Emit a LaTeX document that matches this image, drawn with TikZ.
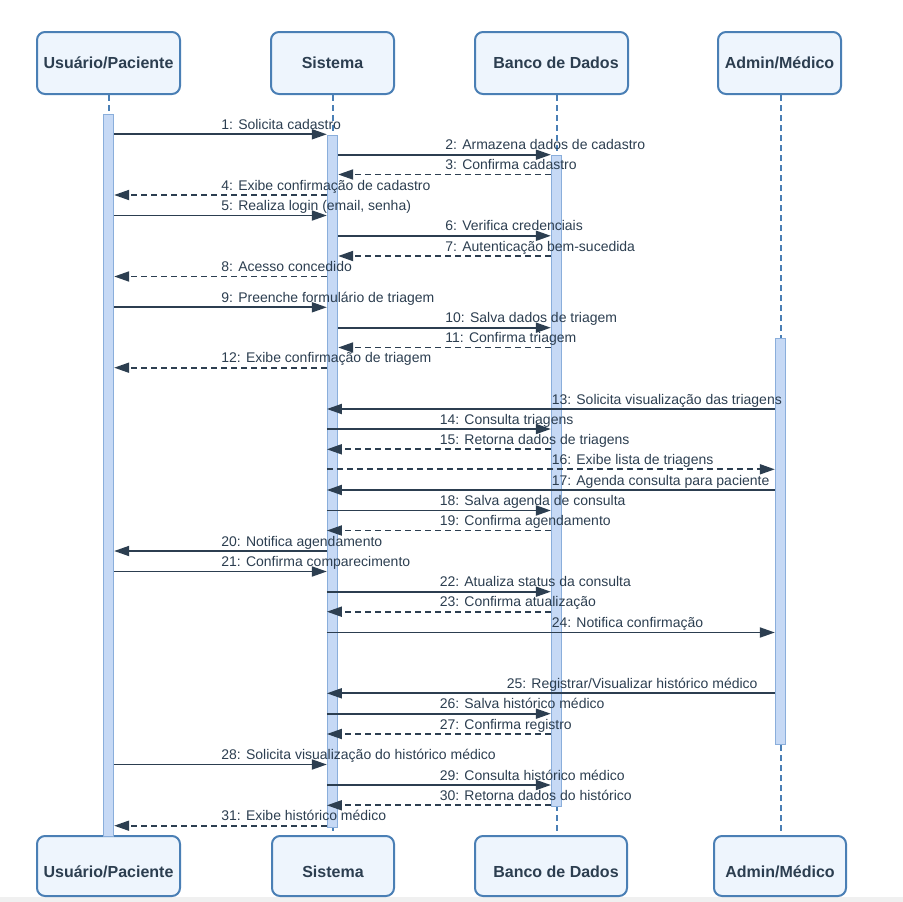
\documentclass[tikz,border=0pt]{standalone}
\usepackage{fontspec}
\setmainfont{Liberation Sans}
\usetikzlibrary{arrows.meta}
\definecolor{boxfill}{HTML}{EEF5FD}
\definecolor{boxline}{HTML}{4A7FB5}
\definecolor{barfill}{HTML}{C6D9F5}
\definecolor{barline}{HTML}{8AAEDB}
\definecolor{ink}{HTML}{2C3E50}
\definecolor{strip}{HTML}{F0F0F0}
\tikzset{
  actor/.style={draw=boxline, fill=boxfill, line width=2pt, rounded corners=8pt,
    inner sep=0pt, minimum height=62pt, text=ink,
    font=\fontsize{16pt}{18pt}\selectfont\bfseries, text height=11.5pt, text depth=0pt},
  actorlow/.style={actor, minimum height=60pt, text height=23.5pt},
  lifeline/.style={draw=boxline, line width=2pt, dash pattern=on 6pt off 4pt},
  actbar/.style={draw=barline, fill=barfill, line width=1.3pt, minimum width=10pt, inner sep=0pt, anchor=north},
  call/.style={draw=ink, line width=1.8pt, -{Triangle[length=15pt,width=10pt]}},
  reply/.style={call, dash pattern=on 6pt off 4pt},
  lbl/.style={midway, anchor=base west, yshift=5pt, inner sep=0pt, text=ink,
    font=\fontsize{14pt}{16pt}\selectfont}
}
\newcommand\msgline[5]{\draw[#1] (#2 |- 0,#4) -- node[lbl]{#5} (#3 |- 0,#4);}
\begin{document}
\begin{tikzpicture}[x=1pt,y=-1pt]
\useasboundingbox (0,0) rectangle (903,902);
\fill[strip] (0,897) rectangle (903,902);
% top actors
\node[actor, minimum width=143pt] (tu) at (108.5,63) {Usuário/Paciente};
\node[actor, minimum width=123pt] (ts) at (332.5,63) {Sistema};
\node[actor, minimum width=153pt] (tb) at (551.5,63) {\hspace*{9pt}Banco de Dados};
\node[actor, minimum width=123pt] (ta) at (779.5,63) {Admin/Médico};
% bottom actors
\node[actorlow, minimum width=143pt] (bu) at (108.5,866) {Usuário/Paciente};
\node[actorlow, minimum width=122pt] (bs) at (333,866) {Sistema};
\node[actorlow, minimum width=152pt] (bb) at (551,866) {\hspace*{10pt}Banco de Dados};
\node[actorlow, minimum width=132pt] (ba) at (780,866) {Admin/Médico};
% lifelines
\draw[lifeline] (tu.south -| 108.5,0) -- (bu.north -| 108.5,0);
\draw[lifeline] (ts.south -| 332.5,0) -- (bs.north -| 332.5,0);
\draw[lifeline] (tb.south -| 556.5,0) -- (bb.north -| 556.5,0);
\draw[lifeline] (ta.south -| 780.5,0) -- (ba.north -| 780.5,0);
% activation bars
\node[actbar, minimum height=722pt] (au) at (108.5,114) {};
\node[actbar, minimum height=692pt] (as) at (332.5,134.5) {};
\node[actbar, minimum height=651pt] (ab) at (556.5,154.5) {};
\node[actbar, minimum height=406pt] (aa) at (780.5,338) {};
% messages
\msgline{call}{au.east}{as.west}{134.3}{1: Solicita cadastro}
\msgline{call}{as.east}{ab.west}{154.7}{2: Armazena dados de cadastro}
\msgline{reply}{ab.west}{as.east}{174.5}{3: Confirma cadastro}
\msgline{reply}{as.west}{au.east}{195}{4: Exibe confirmação de cadastro}
\msgline{call}{au.east}{as.west}{215.5}{5: Realiza login (email, senha)}
\msgline{call}{as.east}{ab.west}{235.8}{6: Verifica credenciais}
\msgline{reply}{ab.west}{as.east}{256}{7: Autenticação bem-sucedida}
\msgline{reply}{as.west}{au.east}{276.5}{8: Acesso concedido}
\msgline{call}{au.east}{as.west}{307.3}{9: Preenche formulário de triagem}
\msgline{call}{as.east}{ab.west}{327.7}{10: Salva dados de triagem}
\msgline{reply}{ab.west}{as.east}{347.5}{11: Confirma triagem}
\msgline{reply}{as.west}{au.east}{367.7}{12: Exibe confirmação de triagem}
\msgline{call}{aa.west}{as.west}{409}{13: Solicita visualização das triagens}
\msgline{call}{as.west}{ab.west}{429}{14: Consulta triagens}
\msgline{reply}{ab.west}{as.west}{449.3}{15: Retorna dados de triagens}
\msgline{reply}{as.west}{aa.west}{469.3}{16: Exibe lista de triagens}
\msgline{call}{aa.west}{as.west}{490}{17: Agenda consulta para paciente}
\msgline{call}{as.west}{ab.west}{510.5}{18: Salva agenda de consulta}
\msgline{reply}{ab.west}{as.west}{530.5}{19: Confirma agendamento}
\msgline{call}{as.west}{au.east}{551}{20: Notifica agendamento}
\msgline{call}{au.east}{as.west}{571.5}{21: Confirma comparecimento}
\msgline{call}{as.west}{ab.west}{591.7}{22: Atualiza status da consulta}
\msgline{reply}{ab.west}{as.west}{611.7}{23: Confirma atualização}
\msgline{call}{as.west}{aa.west}{632.5}{24: Notifica confirmação}
\draw[call] (aa.west |- 0,693.3) -- node[lbl, xshift=-45pt]{25: Registrar/Visualizar histórico médico} (as.west |- 0,693.3);
\msgline{call}{as.west}{ab.west}{713.7}{26: Salva histórico médico}
\msgline{reply}{ab.west}{as.west}{734}{27: Confirma registro}
\msgline{call}{au.east}{as.west}{764.5}{28: Solicita visualização do histórico médico}
\msgline{call}{as.west}{ab.west}{785}{29: Consulta histórico médico}
\msgline{reply}{ab.west}{as.west}{805.3}{30: Retorna dados do histórico}
\msgline{reply}{as.west}{au.east}{825.7}{31: Exibe histórico médico}
\end{tikzpicture}
\end{document}
